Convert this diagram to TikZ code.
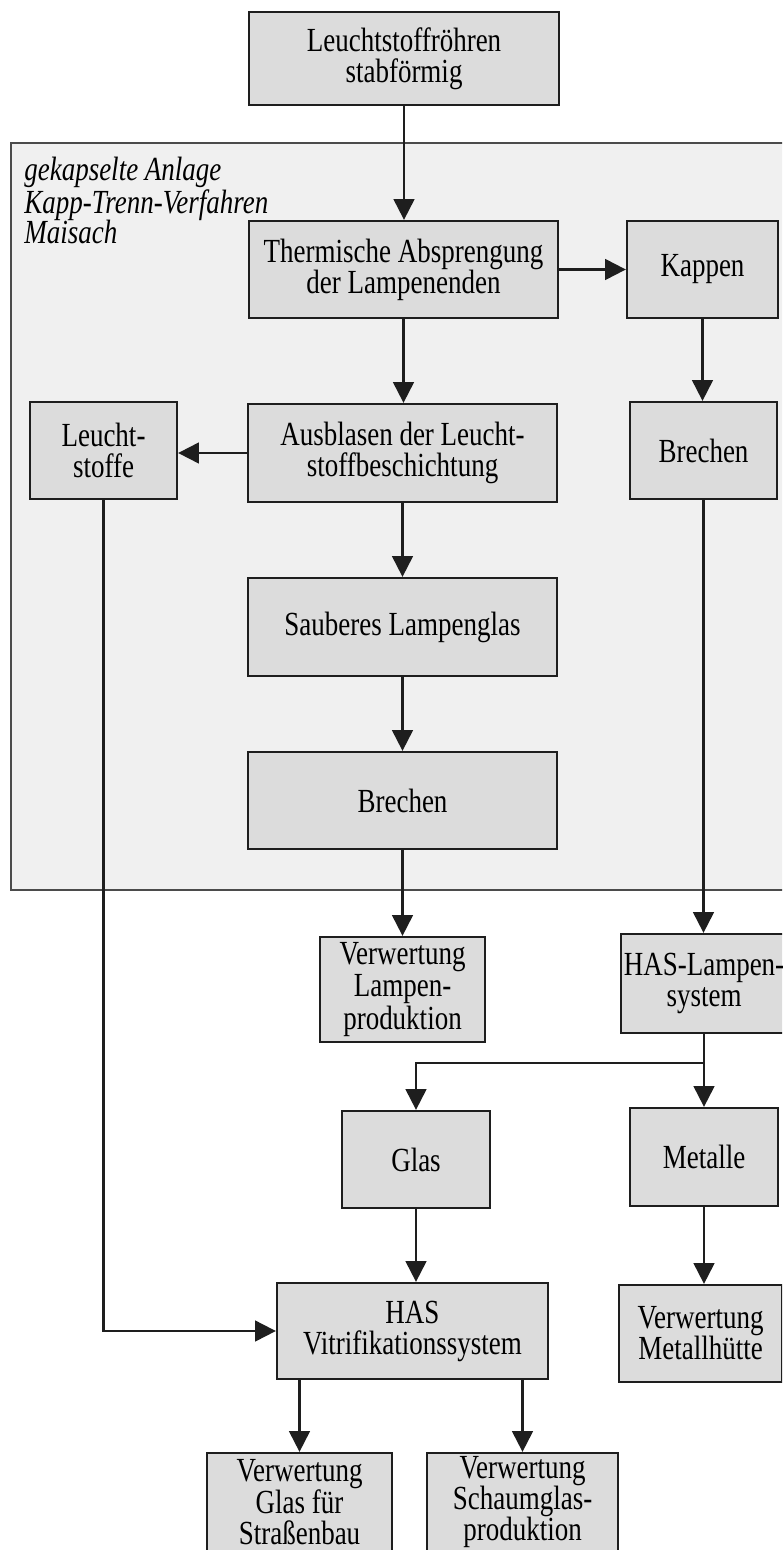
\documentclass[tikz,border=0pt]{standalone}
\usepackage{fontspec}
\setmainfont[FakeStretch=0.8]{Liberation Serif}
\usetikzlibrary{arrows.meta}
\definecolor{boxgrau}{HTML}{DCDCDC}
\definecolor{anlagegrau}{HTML}{F0F0F0}
\definecolor{rand}{HTML}{1E1E1E}
\begin{document}
\begin{tikzpicture}[x=0.025cm,y=-0.025cm,
    >={Triangle[length=0.52cm,width=0.52cm]},
    kasten/.style={draw=rand,line width=1.6pt,fill=boxgrau,align=center,inner sep=0pt,
        font={\fontsize{24}{22}\selectfont}},
    pfeil/.style={->,line width=1.5pt,draw=rand}]
    \path[use as bounding box,fill=white] (0,0) rectangle (782,1550);
    \clip (0,0) rectangle (782,1550);
    % gekapselte Anlage
    \node[draw=rand!80,line width=1.4pt,fill=anlagegrau,minimum width=19.725cm,minimum height=18.675cm] (anlage) at (405.5,516.5) {};
    \node[anchor=north west,align=left,inner sep=0pt,font={\fontsize{24}{22}\selectfont\itshape}] (anlagetext) at (24,157)
        {gekapselte Anlage\\Kapp-Trenn-Verfahren\\Maisach};
    % Kaesten
    \node[kasten,minimum width=7.75cm,minimum height=2.325cm] (rohre) at (404,58.5) {Leuchtstoffröhren\\stabförmig};
    \node[kasten,minimum width=7.725cm,minimum height=2.425cm] (therm) at (403.5,269.5) {Thermische Absprengung\\der Lampenenden};
    \node[kasten,minimum width=3.775cm,minimum height=2.425cm] (kappen) at (702.5,269.5) {Kappen};
    \node[kasten,minimum width=3.675cm,minimum height=2.425cm] (leucht) at (103.5,450.5) {Leucht-\\stoffe};
    \node[kasten,minimum width=7.725cm,minimum height=2.45cm] (ausblasen) at (402.5,453) {Ausblasen der Leucht-\\stoffbeschichtung};
    \node[kasten,minimum width=3.675cm,minimum height=2.425cm] (brechenr) at (703.5,450.5) {Brechen};
    \node[kasten,minimum width=7.725cm,minimum height=2.45cm] (glasrein) at (402.5,627) {Sauberes Lampenglas};
    \node[kasten,minimum width=7.725cm,minimum height=2.425cm] (brechen) at (402.5,800.5) {Brechen};
    \node[kasten,minimum width=4.125cm,minimum height=2.625cm,font={\fontsize{24}{23}\selectfont}] (lampenprod) at (402.5,989.5) {Verwertung\\Lampen-\\produktion};
    \node[kasten,minimum width=4.15cm,minimum height=2.475cm] (haslampen) at (704,983.5) {HAS-Lampen-\\system};
    \node[kasten,minimum width=3.7cm,minimum height=2.425cm] (glas) at (416,1159.5) {Glas};
    \node[kasten,minimum width=3.7cm,minimum height=2.45cm] (metalle) at (704,1157) {Metalle};
    \node[kasten,minimum width=6.775cm,minimum height=2.4cm] (hasvit) at (412.5,1331) {HAS\\Vitrifikationssystem};
    \node[kasten,minimum width=4.075cm,minimum height=2.425cm] (huette) at (700.5,1333.5) {Verwertung\\Metallhütte};
    \node[kasten,minimum width=4.625cm,minimum height=2.45cm] (strasse) at (299.5,1502) {Verwertung\\Glas für\\Straßenbau};
    \node[kasten,minimum width=4.775cm,minimum height=2.45cm] (schaum) at (522.5,1502) {Verwertung\\Schaumglas-\\produktion};
    % Pfeile
    \foreach \a/\b in {rohre/therm, therm/ausblasen, ausblasen/glasrein, glasrein/brechen, brechen/lampenprod,
        kappen/brechenr, brechenr/haslampen, metalle/huette, glas/hasvit} {
        \draw[pfeil] (\a.south) -- (\a.south |- \b.north);
    }
    \foreach \b in {strasse, schaum} {
        \draw[pfeil] (\b.north |- hasvit.south) -- (\b.north);
    }
    \draw[pfeil] (therm.east) -- (therm.east -| kappen.west);
    \draw[pfeil] (ausblasen.west) -- (ausblasen.west -| leucht.east);
    \draw[pfeil] (leucht.south) |- (hasvit.west);
    \coordinate (split) at (704,1063);
    \draw[line width=1.5pt,draw=rand] (haslampen.south) -- (split);
    \draw[pfeil] (split) -- (metalle.north);
    \draw[pfeil] (split) -| (glas.north);
\end{tikzpicture}
\end{document}
